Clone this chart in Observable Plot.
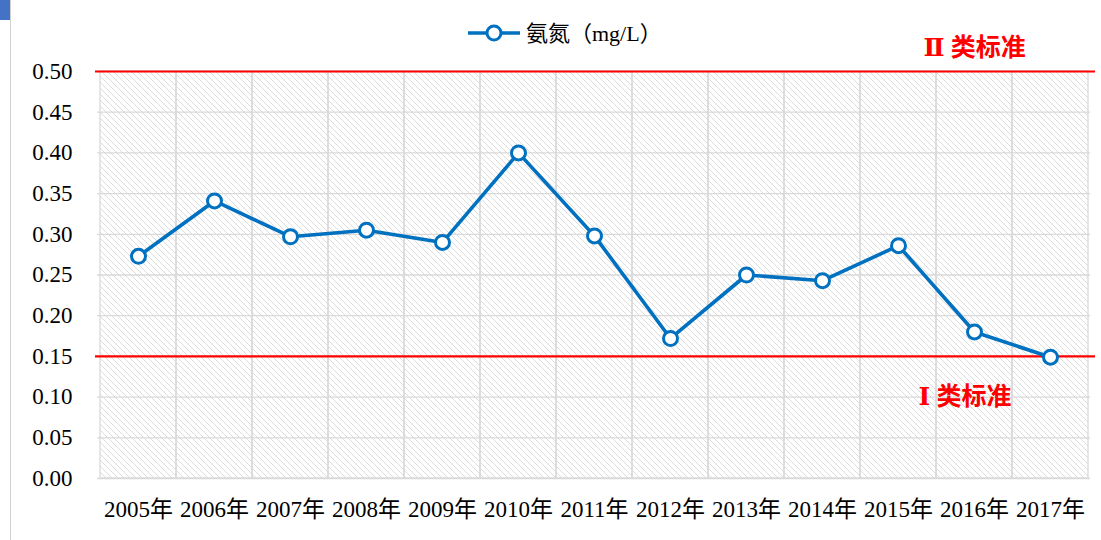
<!DOCTYPE html>
<html>
<head>
<meta charset="utf-8">
<script src="https://cdn.jsdelivr.net/npm/d3@7"></script>
<script src="https://cdn.jsdelivr.net/npm/@observablehq/plot@0.6"></script>
<style>
  html, body { margin: 0; padding: 0; background: #fff; }
  #wrap { position: relative; width: 1101px; height: 540px; overflow: hidden; }
  #blue { position: absolute; left: 0; top: 0; width: 10px; height: 20px; background: #4472C4; }
  #vline { position: absolute; left: 10px; top: 0; width: 1px; height: 540px; background: #d0d0d0; }
</style>
</head>
<body>
<svg width="0" height="0" style="position:absolute">
  <defs>
    <pattern id="hatch" patternUnits="userSpaceOnUse" width="6" height="6">
      <path d="M-1,-1 L7,7 M-4,2 L2,8 M4,-2 L8,2" stroke="#dcdcdc" stroke-width="1" fill="none"/>
    </pattern>
  </defs>
</svg>
<div id="wrap"><div id="blue"></div><div id="vline"></div></div>
<script>
const years = ["2005年","2006年","2007年","2008年","2009年","2010年","2011年","2012年","2013年","2014年","2015年","2016年","2017年"];
const values = [0.273, 0.341, 0.297, 0.305, 0.290, 0.400, 0.298, 0.172, 0.250, 0.243, 0.286, 0.180, 0.149];
const yTicks = [0, 0.05, 0.10, 0.15, 0.20, 0.25, 0.30, 0.35, 0.40, 0.45, 0.50];
const standardII = {label: "Ⅱ 类标准", value: 0.50, at: "2016年"};
const standardI = {label: "Ⅰ 类标准", value: 0.15, at: "2016年"};
const seriesName = "氨氮（mg/L）";

const data = years.map((y, i) => ({year: y, value: values[i]}));
const blue = "#0070C0";
const serif = "'Liberation Serif', 'Times New Roman', 'Noto Sans CJK SC', serif";
const redFont = "'Liberation Serif', 'DejaVu Serif', 'Noto Sans CJK SC', serif";

const chart = Plot.plot({
  width: 1101,
  height: 540,
  marginLeft: 97,
  marginRight: 11,
  marginTop: 71,
  marginBottom: 62,
  style: {background: "transparent", color: "#000"},
  x: {type: "band", domain: years, padding: 0, label: null},
  y: {domain: [0, 0.5], label: null},
  marks: [
    Plot.barY(years, {x: d => d, y1: 0, y2: 0.5, fill: "url(#hatch)", stroke: "#d9d9d9", strokeWidth: 1.3}),
    Plot.ruleY(yTicks, {stroke: "#d9d9d9", strokeWidth: 1.3}),
    Plot.ruleY([standardII, standardI], {y: "value", stroke: "#ff0000", strokeWidth: 2.2, insetLeft: -2, insetRight: -5}),
    Plot.text([standardII], {x: "at", y: "value", text: "label", dy: -24, dx: -51, textAnchor: "start", fill: "#ff0000", fontSize: 25, fontWeight: 600, fontFamily: redFont}),
    Plot.text([standardI], {x: "at", y: "value", text: "label", dy: 41, dx: -56, textAnchor: "start", fill: "#ff0000", fontSize: 25, fontWeight: 600, fontFamily: redFont}),
    Plot.line(data, {x: "year", y: "value", stroke: blue, strokeWidth: 3.6}),
    Plot.dot(data, {x: "year", y: "value", r: 7, fill: "#fff", stroke: blue, strokeWidth: 3}),
    Plot.axisY({ticks: yTicks, tickSize: 0, tickPadding: 25, tickFormat: d => d.toFixed(2), fontSize: 23, fontFamily: serif, fill: "#000"}),
    Plot.axisX({tickSize: 0, tickPadding: 22, fontSize: 23, fontFamily: serif, fill: "#000"})
  ]
});

const svg = d3.select(chart);
const lg = svg.append("g").attr("transform", "translate(0,33)");
lg.append("line").attr("x1", 468).attr("x2", 520).attr("y1", 0).attr("y2", 0).attr("stroke", blue).attr("stroke-width", 3.6);
lg.append("circle").attr("cx", 494).attr("cy", 0).attr("r", 7).attr("fill", "#fff").attr("stroke", blue).attr("stroke-width", 3);
lg.append("text").attr("x", 526).attr("y", 0).attr("dy", "0.35em").attr("text-anchor", "start")
  .attr("font-size", 22).attr("font-family", serif).attr("fill", "#000").text(seriesName);

chart.style.position = "absolute";
chart.style.left = "0";
chart.style.top = "0";
document.getElementById("wrap").appendChild(chart);
</script>
</body>
</html>
